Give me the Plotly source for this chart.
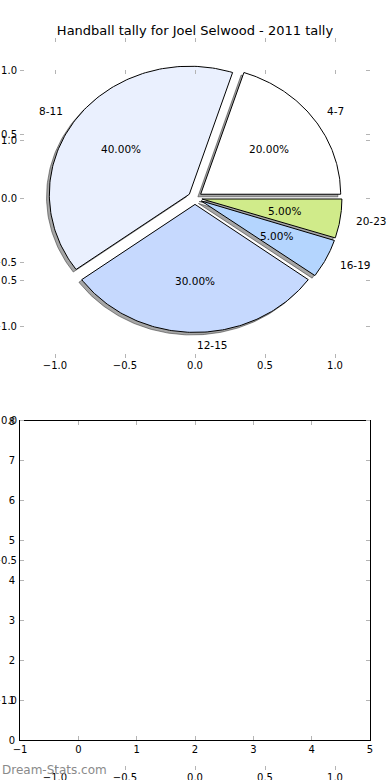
import numpy as np
import plotly.graph_objects as go

# ---- data ----
labels = ["4-7", "8-11", "12-15", "16-19", "20-23"]
values = [20, 40, 30, 5, 5]
colors = ["#ffffff", "#eaf0fe", "#c6d9fe", "#b4d5fe", "#d0eb8a"]
explode = [0.05, 0.05, 0.05, 0.05, 0.05]

pie_ticks = [-1.0, -0.5, 0.0, 0.5, 1.0]
empty_xticks = [-1, 0, 1, 2, 3, 4, 5]
empty_yticks = [0, 1, 2, 3, 4, 5, 6, 7, 8]

title = "Handball tally for Joel Selwood - 2011 tally"
watermark = "Dream-Stats.com"

FONT = "DejaVu Sans"
TICKC = "#b4b4b4"
W, H = 390, 780


def px_dom(a, b, total, flip=False):
    if flip:
        return [1 - b / total, 1 - a / total]
    return [a / total, b / total]


fig = go.Figure()

total = float(sum(values))
fracs = [v / total for v in values]
starts = np.concatenate([[0.0], np.cumsum(fracs)[:-1]]) * 360.0
ends = np.cumsum(fracs) * 360.0

wedges = []
for lab, f, t1, t2, e, c in zip(labels, fracs, starts, ends, explode, colors):
    tm = np.deg2rad((t1 + t2) / 2)
    cx, cy = e * np.cos(tm), e * np.sin(tm)
    th = np.deg2rad(np.linspace(t1, t2, 120))
    xs = np.concatenate([[cx], cx + np.cos(th), [cx]])
    ys = np.concatenate([[cy], cy + np.sin(th), [cy]])
    wedges.append((lab, f, tm, cx, cy, xs, ys, c))

# shadows
for lab, f, tm, cx, cy, xs, ys, c in wedges:
    fig.add_trace(go.Scatter(x=xs - 0.02, y=ys - 0.02, mode="lines", fill="toself",
                             fillcolor="rgba(77,77,77,0.5)",
                             line=dict(color="rgba(40,40,40,0.5)", width=1),
                             hoverinfo="skip", showlegend=False, xaxis="x", yaxis="y"))
# wedges
for lab, f, tm, cx, cy, xs, ys, c in wedges:
    fig.add_trace(go.Scatter(x=xs, y=ys, mode="lines", fill="toself", fillcolor=c,
                             line=dict(color="black", width=1),
                             name=lab, showlegend=False, xaxis="x", yaxis="y"))

annotations = []
for lab, f, tm, cx, cy, xs, ys, c in wedges:
    lx = cx + 1.1 * np.cos(tm)
    ly = cy + 1.1 * np.sin(tm)
    annotations.append(dict(x=lx, y=ly, xref="x", yref="y", text=lab, showarrow=False,
                            xanchor="left" if lx >= -1e-9 else "right", yanchor="middle",
                            font=dict(family=FONT, size=10.5, color="black")))
    px_ = cx + 0.6 * np.cos(tm)
    py_ = cy + 0.6 * np.sin(tm)
    annotations.append(dict(x=px_, y=py_, xref="x", yref="y", text="%.2f%%" % (f * 100),
                            showarrow=False, xanchor="center", yanchor="middle",
                            font=dict(family=FONT, size=10.5, color="black")))

annotations.append(dict(x=0, y=1 - 770 / H, xref="paper", yref="paper", text=watermark,
                        showarrow=False, xanchor="left", yanchor="middle",
                        font=dict(family=FONT, size=12, color="#8a8a8a")))

# invisible traces to activate the other subplots
fig.add_trace(go.Scatter(x=[None], y=[None], xaxis="x2", yaxis="y2", showlegend=False))
fig.add_trace(go.Scatter(x=[None], y=[None], xaxis="x3", yaxis="y3", showlegend=False))

tickfont = dict(family=FONT, size=10, color="black")
pie_ax = dict(range=[-1.25, 1.25], tickvals=pie_ticks, tickformat=".1f", ticks="inside",
              ticklen=4, tickcolor=TICKC, showline=False, mirror="ticks", showgrid=False,
              zeroline=False, tickfont=tickfont, fixedrange=True, automargin=False)

xdom = px_dom(20, 370, W)
box_ax = dict(ticks="inside", ticklen=4, tickcolor=TICKC, showline=True, linecolor="black",
              linewidth=1, mirror="ticks", showgrid=False, zeroline=False, tickfont=tickfont,
              automargin=False, fixedrange=True)
fig.update_layout(
    template="none",
    width=W, height=H, autosize=False,
    margin=dict(l=0, r=0, t=0, b=0, pad=0),
    paper_bgcolor="white", plot_bgcolor="rgba(0,0,0,0)",
    title=dict(text=title, x=0.5, xanchor="center", y=1 - 30 / H, yanchor="middle",
               font=dict(family=FONT, size=13, color="black")),
    xaxis=dict(domain=xdom, anchor="y", **pie_ax),
    yaxis=dict(domain=px_dom(38, 358, H, flip=True), anchor="x", ticklabelstandoff=2, **pie_ax),
    xaxis3=dict(domain=xdom, anchor="y3", **pie_ax),
    yaxis3=dict(domain=px_dom(70, 770, H, flip=True), anchor="x3", ticklabelstandoff=2, **pie_ax),
    xaxis2=dict(domain=xdom, anchor="y2", range=[-1, 5], tickvals=empty_xticks, **box_ax),
    yaxis2=dict(domain=px_dom(421, 740, H, flip=True), anchor="x2", range=[0, 8],
                tickvals=empty_yticks, ticklabelstandoff=2, **box_ax),
    annotations=annotations,
)

fig.write_html("out.html", config={"displayModeBar": False},
               post_script="document.body.style.margin='0';")
